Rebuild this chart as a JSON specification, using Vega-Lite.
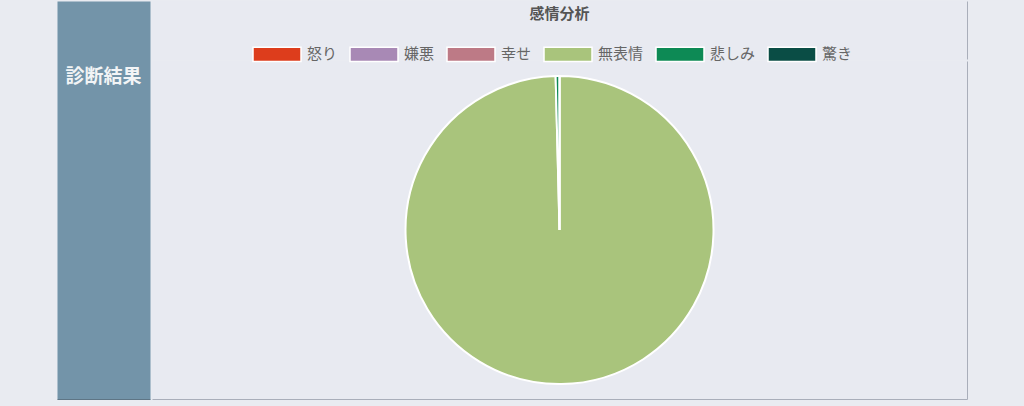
{
  "$schema": "https://vega.github.io/schema/vega-lite/v6.json",
  "description": "感情分析 pie chart beside a 診断結果 sidebar.",
  "background": "#e9ebf1",
  "padding": {"left": 56, "top": 0, "right": 58, "bottom": 8},
  "spacing": 0,
  "hconcat": [
    {
      "width": 93,
      "height": 398,
      "data": {"values": []},
      "mark": "point",
      "title": {
        "text": "診断結果",
        "orient": "top",
        "anchor": "middle",
        "offset": -95,
        "baseline": "middle",
        "font": "Noto Sans CJK JP",
        "fontSize": 19,
        "fontWeight": "bold",
        "color": "#f2f4f6"
      },
      "view": {"fill": "#7394a9", "stroke": "#5e7585", "strokeDash": [0, 491, 93, 1000]}
    },
    {
      "spacing": 0,
      "vconcat": [
        {
          "width": 815,
          "height": 58,
          "data": {"values": []},
          "mark": "point",
          "title": {
            "text": "感情分析",
            "orient": "top",
            "anchor": "middle",
            "offset": -28,
            "baseline": "middle",
            "font": "Noto Sans CJK JP",
            "fontSize": 15,
            "fontWeight": "bold",
            "color": "#555"
          },
          "view": {"fill": "#e8eaf1", "stroke": "#a9aeba", "strokeDash": [0, 815, 58, 2000]}
        },
        {
          "width": 815,
          "height": 338,
          "data": {
            "values": [
              {"emotion": "怒り", "value": 0},
              {"emotion": "嫌悪", "value": 0},
              {"emotion": "幸せ", "value": 0},
              {"emotion": "無表情", "value": 99.6},
              {"emotion": "悲しみ", "value": 0.4},
              {"emotion": "驚き", "value": 0}
            ]
          },
          "transform": [{"window": [{"op": "row_number", "as": "k"}]}],
          "mark": {"type": "arc", "radius": 154, "stroke": "#ffffff", "strokeWidth": 2},
          "encoding": {
            "theta": {"field": "value", "type": "quantitative", "stack": true},
            "order": {"field": "k", "type": "quantitative"},
            "color": {
              "field": "emotion",
              "type": "nominal",
              "scale": {
                "domain": ["怒り", "嫌悪", "幸せ", "無表情", "悲しみ", "驚き"],
                "range": ["#dd3d1c", "#a889b5", "#bd7a86", "#a9c47c", "#0d8a55", "#0a4d45"]
              },
              "legend": {
                "orient": "none",
                "legendX": 195,
                "legendY": 28,
                "direction": "horizontal",
                "columns": 6,
                "title": null,
                "padding": 0,
                "symbolType": "M-1,-0.3H1V0.3H-1Z",
                "symbolSize": 2304,
                "symbolStrokeColor": "#ffffff",
                "symbolStrokeWidth": 1.5,
                "symbolOpacity": 1,
                "labelFont": "Noto Sans CJK JP",
                "labelFontSize": 15,
                "labelColor": "#666",
                "labelOffset": 5,
                "columnPadding": 9
              }
            }
          },
          "view": {"fill": "#e8eaf1", "stroke": "#a9aeba", "strokeDash": [0, 815, 1153, 1000]}
        }
      ]
    }
  ]
}
